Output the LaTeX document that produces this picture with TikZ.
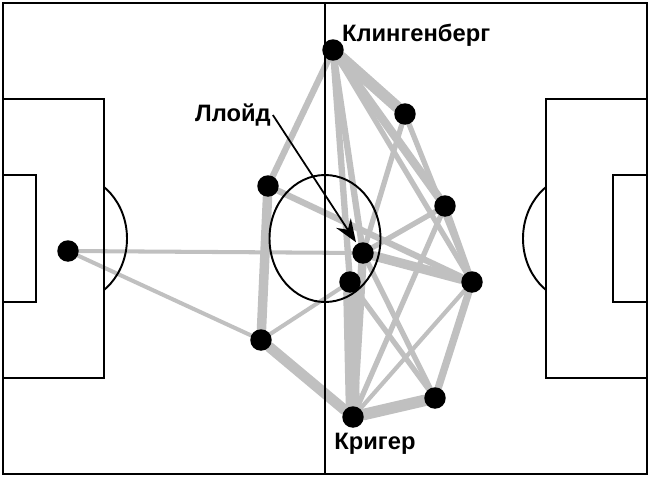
\documentclass[tikz,border=0pt]{standalone}
\usepackage{fontspec}
\setmainfont{Liberation Sans}
\usepackage{tikz}
\usetikzlibrary{positioning}
\usetikzlibrary{arrows.meta,backgrounds}

\definecolor{passgray}{RGB}{192,192,192}
\tikzset{
  player/.style={circle, fill=black, inner sep=0pt, minimum size=0.43cm},
  pass/.style={draw=passgray, line cap=round},
  pitch/.style={black, line width=1.35pt},
  pitcharc/.style={black, line width=1.1pt},
  playername/.style={font=\fontsize{13.5}{15}\selectfont\bfseries, inner sep=1pt}
}

\begin{document}
\begin{tikzpicture}[x=0.02cm, y=-0.02cm]
\useasboundingbox (0,0) rectangle (650,477);

% pitch
\draw[pitch, line width=1.4pt] (3,3) rectangle (647,474);
\draw[pitch] (325,3) -- (325,474);
\draw[pitcharc] (325,238.5) ellipse[x radius=55.5, y radius=63.5];
\draw[pitch] (3,99) rectangle (104,378);
\draw[pitch] (3,175) rectangle (36,302);
\draw[pitch] (647,99) rectangle (546,378);
\draw[pitch] (647,175) rectangle (613,302);

% penalty arcs
\begin{scope}
  \clip (104,0) rectangle (200,477);
  \draw[pitcharc] (71.5,238.5) ellipse[x radius=55.5, y radius=63.5];
\end{scope}
\begin{scope}
  \clip (450,0) rectangle (546,477);
  \draw[pitcharc] (578.5,238.5) ellipse[x radius=55.5, y radius=63.5];
\end{scope}

% players
\node[player] (gk) at (68,251) {};
\node[player] (kling) at (333,50) {};
\node[player] (rw) at (405,114) {};
\node[player] (lm) at (268,186) {};
\node[player] (rm) at (445,206) {};
\node[player] (lloyd) at (363,253) {};
\node[player] (cb) at (350,282) {};
\node[player] (fw) at (472,282) {};
\node[player] (lb) at (261,340) {};
\node[player] (krieger) at (353,417) {};
\node[player] (rb) at (435,398) {};

% passes
\begin{scope}[on background layer]
\foreach \a/\b/\w in {gk/lloyd/2.3, gk/lb/2.3, lb/cb/2.3, lb/lm/5.4,
    lb/krieger/6, lm/kling/3.6, lm/fw/3.6, kling/rw/6.6,
    kling/lloyd/3.6, kling/cb/3.6, kling/rm/4.8, kling/fw/3,
    rw/lloyd/3, rw/fw/3, rm/lloyd/3, rm/fw/3.6,
    rm/krieger/3, lloyd/fw/5.4, lloyd/krieger/4.8, cb/krieger/8,
    lloyd/rb/3, cb/rb/3, fw/rb/4.2, fw/krieger/2.4, rb/krieger/6.6}
  \draw[pass, line width=\w pt] (\a) -- (\b);
\end{scope}

% names
\node[playername, anchor=west] (klinglbl) at (340,35) {Клингенберг};
\node[playername] (lloydlbl) at (233,115) {Ллойд};
\node[playername] (kriegerlbl) at (375,444) {Кригер};

\draw[-{Stealth[length=13pt,width=10pt,inset=4.5pt]}, line width=1pt,
  shorten >=1pt] (lloydlbl.east) -- (lloyd);

\end{tikzpicture}
\end{document}
